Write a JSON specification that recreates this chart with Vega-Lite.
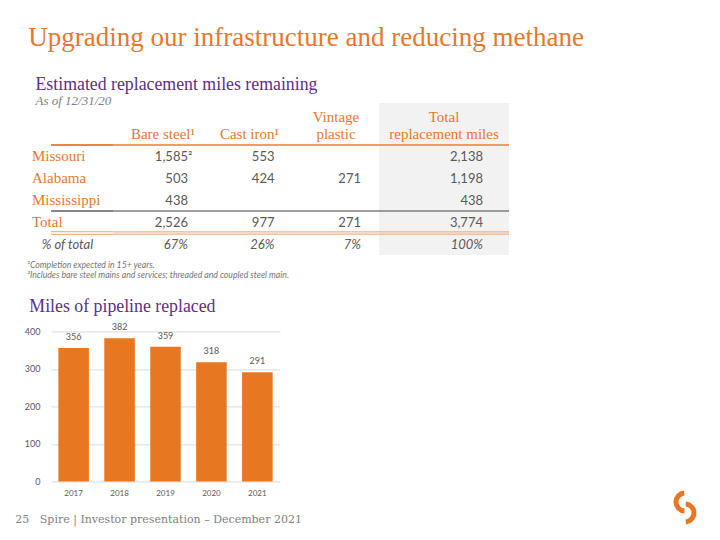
{
  "$schema": "https://vega.github.io/schema/vega-lite/v6.json",
  "background": "white",
  "padding": {"left": 15, "top": 23, "right": 5, "bottom": 5},
  "config": {"view": {"stroke": null}, "text": {"font": "Lato"}, "title": {"fontWeight": "normal"}},
  "datasets": {
    "miles": [
      {"row": "Missouri", "col": "Bare steel", "miles": 1585, "note": "²"},
      {"row": "Missouri", "col": "Cast iron", "miles": 553},
      {"row": "Missouri", "col": "Total", "miles": 2138},
      {"row": "Alabama", "col": "Bare steel", "miles": 503},
      {"row": "Alabama", "col": "Cast iron", "miles": 424},
      {"row": "Alabama", "col": "Vintage plastic", "miles": 271},
      {"row": "Alabama", "col": "Total", "miles": 1198},
      {"row": "Mississippi", "col": "Bare steel", "miles": 438},
      {"row": "Mississippi", "col": "Total", "miles": 438},
      {"row": "Total", "col": "Bare steel", "miles": 2526},
      {"row": "Total", "col": "Cast iron", "miles": 977},
      {"row": "Total", "col": "Vintage plastic", "miles": 271},
      {"row": "Total", "col": "Total", "miles": 3774}
    ],
    "shares": [
      {"row": "% of total", "col": "Bare steel", "share": 0.67},
      {"row": "% of total", "col": "Cast iron", "share": 0.26},
      {"row": "% of total", "col": "Vintage plastic", "share": 0.07},
      {"row": "% of total", "col": "Total", "share": 1}
    ],
    "headers": [
      {"row": "header", "col": "Bare steel", "line2": "Bare steel¹"},
      {"row": "header", "col": "Cast iron", "line2": "Cast iron¹"},
      {"row": "header", "col": "Vintage plastic", "line1": "Vintage", "line2": "plastic"},
      {"row": "header", "col": "Total", "line1": "Total", "line2": "replacement miles"}
    ],
    "notes": [
      {"note": "¹Completion expected in 15+ years."},
      {"note": "²Includes bare steel mains and services; threaded and coupled steel main."}
    ],
    "replaced": [
      {"year": "2017", "miles": 356},
      {"year": "2018", "miles": 382},
      {"year": "2019", "miles": 359},
      {"year": "2020", "miles": 318},
      {"year": "2021", "miles": 291}
    ]
  },
  "title": {
    "text": "25\u00a0\u00a0\u00a0Spire | Investor presentation – December 2021",
    "orient": "bottom", "anchor": "start", "frame": "bounds", "dx": -9, "offset": -10.7,
    "font": "DejaVu Serif", "fontSize": 11, "fontWeight": "normal", "color": "#808080"
  },
  "columns": 1,
  "spacing": -8,
  "concat": [
    {
      "title": {
        "text": "Upgrading our infrastructure and reducing methane",
        "anchor": "start", "frame": "bounds", "dx": 4, "offset": 24.3,
        "font": "Liberation Serif", "fontSize": 27, "fontWeight": "normal", "color": "#E8772E"
      },
      "columns": 1,
      "spacing": 5.7,
      "concat": [
        {
          "title": {
            "text": "Estimated replacement miles remaining",
            "subtitle": "As of 12/31/20",
            "anchor": "start", "frame": "bounds", "dx": 3.5, "offset": -5.2, "subtitlePadding": 1.5,
            "font": "Liberation Serif", "fontSize": 17.8, "fontWeight": "normal", "color": "#5C2E91",
            "subtitleFont": "Liberation Serif", "subtitleFontSize": 13, "subtitleFontStyle": "italic", "subtitleColor": "#7F7F7F"
          },
          "bounds": "flush",
          "spacing": 0,
          "hconcat": [
            {
              "width": 89, "height": 152,
              "layer": [
                {"data": {"values": [{}]}, "mark": {"type": "rule", "color": "#ED7D31", "strokeWidth": 1.3, "xOffset": -27},
                 "encoding": {"y": {"datum": "header", "type": "nominal", "bandPosition": 1, "axis": null,
                   "scale": {"type": "band", "domain": ["header", "Missouri", "Alabama", "Mississippi", "Total", "% of total"], "paddingInner": 0, "paddingOuter": 0.4545, "align": 1}}}},
                {"data": {"values": [{}]}, "mark": {"type": "rule", "color": "#ED7D31", "strokeWidth": 1.3},
                 "encoding": {"y": {"datum": "header", "type": "nominal", "bandPosition": 1, "axis": null}}},
                {"data": {"values": [{}]}, "mark": {"type": "rule", "color": "#7F7F7F", "strokeWidth": 1.4, "xOffset": -27},
                 "encoding": {"y": {"datum": "Mississippi", "type": "nominal", "bandPosition": 1, "axis": null}}},
                {"data": {"values": [{}]}, "mark": {"type": "rule", "color": "#7F7F7F", "strokeWidth": 1.4},
                 "encoding": {"y": {"datum": "Mississippi", "type": "nominal", "bandPosition": 1, "axis": null}}},
                {"data": {"values": [{}]}, "mark": {"type": "rule", "color": "#F4B183", "strokeWidth": 3.4, "xOffset": -27},
                 "encoding": {"y": {"datum": "Total", "type": "nominal", "bandPosition": 1, "axis": null}}},
                {"data": {"values": [{}]}, "mark": {"type": "rule", "color": "#F4B183", "strokeWidth": 3.4},
                 "encoding": {"y": {"datum": "Total", "type": "nominal", "bandPosition": 1, "axis": null}}},
                {"data": {"values": [{}]}, "mark": {"type": "rule", "color": "#FFFFFF", "strokeWidth": 1.2, "xOffset": -27},
                 "encoding": {"y": {"datum": "Total", "type": "nominal", "bandPosition": 1, "axis": null}}},
                {"data": {"values": [{}]}, "mark": {"type": "rule", "color": "#FFFFFF", "strokeWidth": 1.2},
                 "encoding": {"y": {"datum": "Total", "type": "nominal", "bandPosition": 1, "axis": null}}},
                {"data": {"name": "miles"}, "transform": [{"filter": "datum.col === 'Total'"}],
                 "mark": {"type": "text", "align": "left", "baseline": "alphabetic", "dx": -63.5, "font": "Liberation Serif", "fontSize": 15, "color": "#E8772E"},
                 "encoding": {"y": {"field": "row", "type": "nominal", "bandPosition": 0.75, "axis": null}, "text": {"field": "row"}}},
                {"data": {"name": "shares"}, "transform": [{"filter": "datum.col === 'Total'"}],
                 "mark": {"type": "text", "align": "left", "baseline": "alphabetic", "dx": -53.8, "font": "Lato", "fontSize": 13, "fontStyle": "italic", "color": "#595959"},
                 "encoding": {"y": {"field": "row", "type": "nominal", "bandPosition": 0.75, "axis": null}, "text": {"field": "row"}}}
              ]
            },
            {
              "width": 239, "height": 152,
              "layer": [
                {"data": {"values": [{}]}, "mark": {"type": "rule", "color": "#ED7D31", "strokeWidth": 1.3},
                 "encoding": {"y": {"datum": "header", "type": "nominal", "bandPosition": 1, "axis": null,
                   "scale": {"type": "band", "domain": ["header", "Missouri", "Alabama", "Mississippi", "Total", "% of total"], "paddingInner": 0, "paddingOuter": 0.4545, "align": 1}}}},
                {"data": {"values": [{}]}, "mark": {"type": "rule", "color": "#7F7F7F", "strokeWidth": 1.4},
                 "encoding": {"y": {"datum": "Mississippi", "type": "nominal", "bandPosition": 1, "axis": null}}},
                {"data": {"values": [{}]}, "mark": {"type": "rule", "color": "#F4B183", "strokeWidth": 3.4},
                 "encoding": {"y": {"datum": "Total", "type": "nominal", "bandPosition": 1, "axis": null}}},
                {"data": {"values": [{}]}, "mark": {"type": "rule", "color": "#FFFFFF", "strokeWidth": 1.2},
                 "encoding": {"y": {"datum": "Total", "type": "nominal", "bandPosition": 1, "axis": null}}},
                {"data": {"name": "headers"}, "transform": [{"filter": "datum.col !== 'Total'"}],
                 "mark": {"type": "text", "align": "center", "baseline": "alphabetic", "dx": -25, "font": "Liberation Serif", "fontSize": 15, "color": "#E8772E"},
                 "encoding": {
                   "x": {"field": "col", "type": "nominal", "axis": null, "scale": {"type": "point", "domain": ["Bare steel", "Cast iron", "Vintage plastic"], "padding": 0.3815, "align": 0.727}},
                   "y": {"field": "row", "type": "nominal", "bandPosition": 0.75, "axis": null},
                   "text": {"field": "line2"}}},
                {"data": {"name": "headers"}, "transform": [{"filter": "datum.col !== 'Total' && isValid(datum.line1)"}],
                 "mark": {"type": "text", "align": "center", "baseline": "alphabetic", "dx": -25, "dy": -17.3, "font": "Liberation Serif", "fontSize": 15, "color": "#E8772E"},
                 "encoding": {
                   "x": {"field": "col", "type": "nominal", "axis": null},
                   "y": {"field": "row", "type": "nominal", "bandPosition": 0.75, "axis": null},
                   "text": {"field": "line1"}}},
                {"data": {"name": "miles"}, "transform": [{"filter": "datum.col !== 'Total'"}],
                 "mark": {"type": "text", "align": "right", "baseline": "alphabetic", "font": "Lato", "fontSize": 13, "color": "#595959"},
                 "encoding": {
                   "x": {"field": "col", "type": "nominal", "axis": null},
                   "y": {"field": "row", "type": "nominal", "bandPosition": 0.75, "axis": null},
                   "text": {"field": "miles", "format": ","}}},
                {"data": {"name": "miles"}, "transform": [{"filter": "isValid(datum.note)"}],
                 "mark": {"type": "text", "align": "left", "baseline": "alphabetic", "font": "Lato", "fontSize": 13, "color": "#595959"},
                 "encoding": {
                   "x": {"field": "col", "type": "nominal", "axis": null},
                   "y": {"field": "row", "type": "nominal", "bandPosition": 0.75, "axis": null},
                   "text": {"field": "note"}}},
                {"data": {"name": "shares"}, "transform": [{"filter": "datum.col !== 'Total'"}],
                 "mark": {"type": "text", "align": "right", "baseline": "alphabetic", "font": "Lato", "fontSize": 13, "fontStyle": "italic", "color": "#595959"},
                 "encoding": {
                   "x": {"field": "col", "type": "nominal", "axis": null},
                   "y": {"field": "row", "type": "nominal", "bandPosition": 0.75, "axis": null},
                   "text": {"field": "share", "format": ".0%"}}}
              ]
            },
            {
              "width": 130, "height": 152,
              "view": {"fill": "#F2F2F2", "stroke": null},
              "layer": [
                {"data": {"values": [{}]}, "mark": {"type": "rule", "color": "#ED7D31", "strokeWidth": 1.3},
                 "encoding": {"y": {"datum": "header", "type": "nominal", "bandPosition": 1, "axis": null,
                   "scale": {"type": "band", "domain": ["header", "Missouri", "Alabama", "Mississippi", "Total", "% of total"], "paddingInner": 0, "paddingOuter": 0.4545, "align": 1}}}},
                {"data": {"values": [{}]}, "mark": {"type": "rule", "color": "#7F7F7F", "strokeWidth": 1.4},
                 "encoding": {"y": {"datum": "Mississippi", "type": "nominal", "bandPosition": 1, "axis": null}}},
                {"data": {"values": [{}]}, "mark": {"type": "rule", "color": "#F4B183", "strokeWidth": 3.4},
                 "encoding": {"y": {"datum": "Total", "type": "nominal", "bandPosition": 1, "axis": null}}},
                {"data": {"values": [{}]}, "mark": {"type": "rule", "color": "#F2F2F2", "strokeWidth": 1.2},
                 "encoding": {"y": {"datum": "Total", "type": "nominal", "bandPosition": 1, "axis": null}}},
                {"data": {"name": "headers"}, "transform": [{"filter": "datum.col === 'Total'"}],
                 "mark": {"type": "text", "align": "center", "baseline": "alphabetic", "font": "Liberation Serif", "fontSize": 15, "color": "#E8772E"},
                 "encoding": {"y": {"field": "row", "type": "nominal", "bandPosition": 0.75, "axis": null}, "text": {"field": "line2"}}},
                {"data": {"name": "headers"}, "transform": [{"filter": "datum.col === 'Total'"}],
                 "mark": {"type": "text", "align": "center", "baseline": "alphabetic", "dy": -17.3, "font": "Liberation Serif", "fontSize": 15, "color": "#E8772E"},
                 "encoding": {"y": {"field": "row", "type": "nominal", "bandPosition": 0.75, "axis": null}, "text": {"field": "line1"}}},
                {"data": {"name": "miles"}, "transform": [{"filter": "datum.col === 'Total'"}],
                 "mark": {"type": "text", "align": "right", "baseline": "alphabetic", "dx": 39, "font": "Lato", "fontSize": 13, "color": "#595959"},
                 "encoding": {"y": {"field": "row", "type": "nominal", "bandPosition": 0.75, "axis": null}, "text": {"field": "miles", "format": ","}}},
                {"data": {"name": "shares"}, "transform": [{"filter": "datum.col === 'Total'"}],
                 "mark": {"type": "text", "align": "right", "baseline": "alphabetic", "dx": 39, "font": "Lato", "fontSize": 13, "fontStyle": "italic", "color": "#595959"},
                 "encoding": {"y": {"field": "row", "type": "nominal", "bandPosition": 0.75, "axis": null}, "text": {"field": "share", "format": ".0%"}}}
              ]
            }
          ]
        },
        {
          "width": 6, "height": 23.24,
          "data": {"name": "notes"},
          "mark": {"type": "text", "align": "left", "baseline": "alphabetic", "dx": -27, "font": "Lato", "fontSize": 8.7, "fontStyle": "italic", "color": "#767676"},
          "encoding": {
            "y": {"field": "note", "type": "nominal", "sort": null, "axis": null, "scale": {"type": "point", "padding": 0.662, "align": 0}},
            "text": {"field": "note"}
          }
        },
        {
          "width": 229, "height": 150,
          "title": {
            "text": "Miles of pipeline replaced", "anchor": "start", "frame": "bounds", "dx": 5, "offset": 7.1,
            "font": "Liberation Serif", "fontSize": 17.8, "fontWeight": "normal", "color": "#5C2E91"
          },
          "data": {"name": "replaced"},
          "encoding": {
            "x": {"field": "year", "type": "ordinal", "scale": {"paddingInner": 0.335, "paddingOuter": 0.16},
              "axis": {"title": null, "labelAngle": 0, "domain": false, "ticks": false, "tickSize": 0, "labelFont": "Lato", "labelFontSize": 8, "labelColor": "#595959", "labelPadding": 8}},
            "y": {"field": "miles", "type": "quantitative", "scale": {"domain": [0, 400]},
              "axis": {"title": null, "values": [0, 100, 200, 300, 400], "domain": false, "ticks": false, "tickSize": 0, "gridColor": "#D9D9D9", "labelFont": "Lato", "labelFontSize": 9, "labelColor": "#595959", "labelPadding": 11}}
          },
          "layer": [
            {"mark": {"type": "bar", "color": "#E87722"}},
            {"mark": {"type": "text", "baseline": "alphabetic", "dy": -8, "font": "Lato", "fontSize": 9, "color": "#595959"},
             "encoding": {"text": {"field": "miles"}}}
          ]
        }
      ]
    },
    {
      "width": 634, "height": 11,
      "layer": [
        {"data": {"values": [{}]},
         "mark": {"type": "arc", "theta": 3.2, "theta2": 6.2, "innerRadius": 6.5, "outerRadius": 11.5, "color": "#E87722"},
         "encoding": {
           "x": {"datum": "logo", "type": "nominal", "axis": null, "scale": {"type": "point", "padding": 0, "align": 1}},
           "y": {"datum": "upper", "type": "nominal", "axis": null, "scale": {"type": "point", "domain": ["upper", "lower"], "padding": 0}}}},
        {"data": {"values": [{}]},
         "mark": {"type": "arc", "theta": 0.08, "theta2": 3.05, "innerRadius": 6.5, "outerRadius": 11.5, "color": "#E87722"},
         "encoding": {
           "x": {"datum": "logo", "type": "nominal", "axis": null},
           "y": {"datum": "lower", "type": "nominal", "axis": null}}}
      ]
    }
  ]
}
